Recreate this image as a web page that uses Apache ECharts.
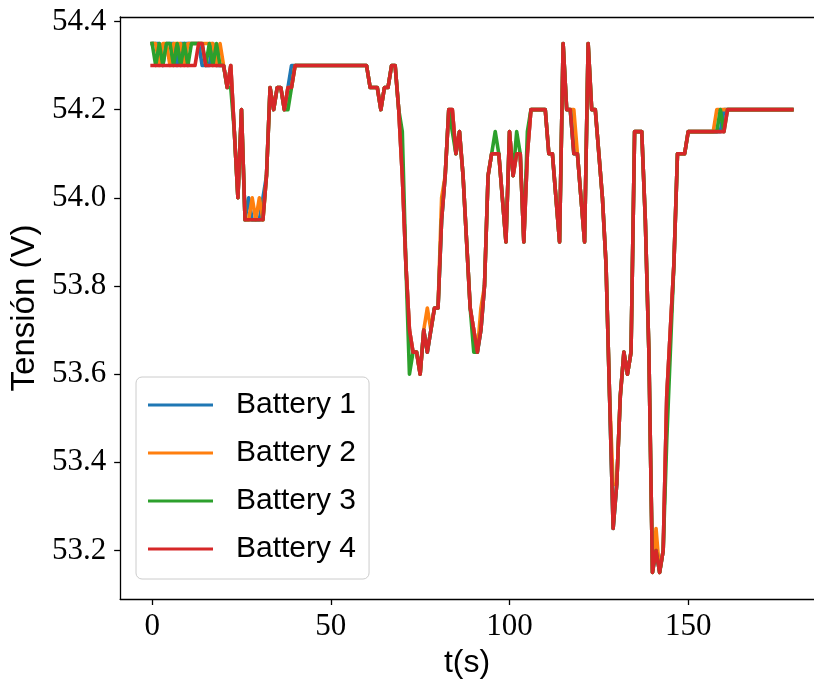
<!DOCTYPE html>
<html>
<head>
<meta charset="utf-8">
<script src="https://cdn.jsdelivr.net/npm/echarts@6/dist/echarts.min.js"></script>
<style>
    html, body { margin: 0; padding: 0; background: #ffffff; }
    #chart { width: 814px; height: 686px; }
</style>
</head>
<body>
<div id="chart"></div>
<script>
// Tick labels
const xTicks = [0, 50, 100, 150];
const yTicks = [53.2, 53.4, 53.6, 53.8, 54.0, 54.2, 54.4];

const seriesNames = ["Battery 1", "Battery 2", "Battery 3", "Battery 4"];
const seriesColors = ["#1f77b4", "#ff7f0e", "#2ca02c", "#d62728"];

// One sample per second, t = 0 .. 179 (index = t)
const battery1 = [
    54.35, 54.35, 54.35, 54.30, 54.35, 54.35, 54.35, 54.30, 54.35, 54.35,
    54.35, 54.35, 54.35, 54.35, 54.30, 54.30, 54.30, 54.35, 54.30, 54.30,
    54.30, 54.25, 54.30, 54.15, 54.00, 54.20, 53.95, 54.00, 53.95, 53.95,
    53.95, 54.00, 54.05, 54.25, 54.20, 54.25, 54.25, 54.20, 54.25, 54.30,
    54.30, 54.30, 54.30, 54.30, 54.30, 54.30, 54.30, 54.30, 54.30, 54.30,
    54.30, 54.30, 54.30, 54.30, 54.30, 54.30, 54.30, 54.30, 54.30, 54.30,
    54.30, 54.25, 54.25, 54.25, 54.20, 54.25, 54.25, 54.30, 54.30, 54.20,
    54.05, 53.85, 53.70, 53.65, 53.65, 53.60, 53.70, 53.65, 53.70, 53.75,
    53.75, 53.95, 54.05, 54.20, 54.20, 54.10, 54.15, 54.05, 53.90, 53.75,
    53.70, 53.65, 53.70, 53.80, 54.05, 54.10, 54.10, 54.10, 54.00, 53.90,
    54.15, 54.05, 54.10, 54.10, 53.90, 54.10, 54.20, 54.20, 54.20, 54.20,
    54.20, 54.10, 54.10, 54.00, 53.90, 54.35, 54.20, 54.20, 54.10, 54.10,
    54.00, 53.90, 54.35, 54.20, 54.20, 54.10, 54.00, 53.85, 53.55, 53.25,
    53.35, 53.55, 53.65, 53.60, 53.65, 54.15, 54.15, 54.15, 53.95, 53.65,
    53.15, 53.20, 53.15, 53.20, 53.55, 53.70, 53.85, 54.10, 54.10, 54.10,
    54.15, 54.15, 54.15, 54.15, 54.15, 54.15, 54.15, 54.15, 54.15, 54.15,
    54.20, 54.20, 54.20, 54.20, 54.20, 54.20, 54.20, 54.20, 54.20, 54.20,
    54.20, 54.20, 54.20, 54.20, 54.20, 54.20, 54.20, 54.20, 54.20, 54.20
];

const battery2 = [
    54.35, 54.35, 54.30, 54.35, 54.35, 54.30, 54.35, 54.35, 54.35, 54.30,
    54.35, 54.35, 54.35, 54.35, 54.35, 54.35, 54.35, 54.35, 54.30, 54.35,
    54.30, 54.25, 54.30, 54.15, 54.00, 54.20, 53.95, 53.95, 54.00, 53.95,
    54.00, 53.95, 54.05, 54.25, 54.20, 54.25, 54.25, 54.20, 54.25, 54.25,
    54.30, 54.30, 54.30, 54.30, 54.30, 54.30, 54.30, 54.30, 54.30, 54.30,
    54.30, 54.30, 54.30, 54.30, 54.30, 54.30, 54.30, 54.30, 54.30, 54.30,
    54.30, 54.25, 54.25, 54.25, 54.20, 54.25, 54.25, 54.30, 54.30, 54.20,
    54.05, 53.85, 53.70, 53.65, 53.65, 53.60, 53.70, 53.75, 53.70, 53.75,
    53.75, 54.00, 54.05, 54.20, 54.20, 54.10, 54.15, 54.05, 53.90, 53.75,
    53.70, 53.65, 53.75, 53.80, 54.05, 54.10, 54.10, 54.10, 54.00, 53.90,
    54.15, 54.05, 54.10, 54.10, 53.90, 54.10, 54.20, 54.20, 54.20, 54.20,
    54.20, 54.10, 54.10, 54.00, 53.90, 54.35, 54.20, 54.20, 54.20, 54.10,
    54.00, 53.90, 54.35, 54.20, 54.20, 54.10, 54.00, 53.85, 53.55, 53.35,
    53.35, 53.55, 53.65, 53.60, 53.65, 54.15, 54.15, 54.15, 53.95, 53.65,
    53.15, 53.25, 53.15, 53.20, 53.55, 53.70, 53.85, 54.10, 54.10, 54.10,
    54.15, 54.15, 54.15, 54.15, 54.15, 54.15, 54.15, 54.15, 54.20, 54.20,
    54.20, 54.20, 54.20, 54.20, 54.20, 54.20, 54.20, 54.20, 54.20, 54.20,
    54.20, 54.20, 54.20, 54.20, 54.20, 54.20, 54.20, 54.20, 54.20, 54.20
];

const battery3 = [
    54.35, 54.30, 54.35, 54.30, 54.35, 54.35, 54.30, 54.35, 54.30, 54.35,
    54.30, 54.35, 54.35, 54.35, 54.35, 54.30, 54.35, 54.30, 54.35, 54.30,
    54.30, 54.25, 54.25, 54.15, 54.00, 54.20, 53.95, 53.95, 53.95, 53.95,
    53.95, 53.95, 54.05, 54.25, 54.20, 54.25, 54.25, 54.20, 54.20, 54.25,
    54.30, 54.30, 54.30, 54.30, 54.30, 54.30, 54.30, 54.30, 54.30, 54.30,
    54.30, 54.30, 54.30, 54.30, 54.30, 54.30, 54.30, 54.30, 54.30, 54.30,
    54.30, 54.25, 54.25, 54.25, 54.20, 54.25, 54.25, 54.30, 54.30, 54.20,
    54.15, 53.85, 53.60, 53.65, 53.65, 53.60, 53.70, 53.65, 53.70, 53.75,
    53.75, 53.95, 54.05, 54.20, 54.15, 54.10, 54.15, 54.05, 53.90, 53.75,
    53.65, 53.65, 53.70, 53.80, 54.05, 54.10, 54.15, 54.10, 54.00, 53.90,
    54.15, 54.05, 54.15, 54.10, 53.90, 54.15, 54.20, 54.20, 54.20, 54.20,
    54.20, 54.10, 54.10, 54.00, 53.90, 54.35, 54.20, 54.20, 54.10, 54.10,
    54.00, 53.90, 54.35, 54.20, 54.20, 54.10, 54.00, 53.85, 53.55, 53.25,
    53.35, 53.55, 53.65, 53.60, 53.65, 54.15, 54.15, 54.15, 53.95, 53.65,
    53.15, 53.20, 53.15, 53.20, 53.45, 53.65, 53.85, 54.10, 54.10, 54.10,
    54.15, 54.15, 54.15, 54.15, 54.15, 54.15, 54.15, 54.15, 54.15, 54.20,
    54.15, 54.20, 54.20, 54.20, 54.20, 54.20, 54.20, 54.20, 54.20, 54.20,
    54.20, 54.20, 54.20, 54.20, 54.20, 54.20, 54.20, 54.20, 54.20, 54.20
];

const battery4 = [
    54.30, 54.30, 54.30, 54.30, 54.30, 54.30, 54.30, 54.30, 54.30, 54.30,
    54.30, 54.30, 54.30, 54.35, 54.35, 54.30, 54.30, 54.30, 54.30, 54.30,
    54.30, 54.25, 54.30, 54.15, 54.00, 54.20, 53.95, 53.95, 53.95, 53.95,
    53.95, 53.95, 54.05, 54.25, 54.20, 54.25, 54.25, 54.20, 54.25, 54.25,
    54.30, 54.30, 54.30, 54.30, 54.30, 54.30, 54.30, 54.30, 54.30, 54.30,
    54.30, 54.30, 54.30, 54.30, 54.30, 54.30, 54.30, 54.30, 54.30, 54.30,
    54.30, 54.25, 54.25, 54.25, 54.20, 54.25, 54.25, 54.30, 54.30, 54.20,
    54.05, 53.85, 53.70, 53.65, 53.65, 53.60, 53.70, 53.65, 53.70, 53.75,
    53.75, 53.95, 54.05, 54.20, 54.20, 54.10, 54.15, 54.05, 53.90, 53.75,
    53.70, 53.65, 53.70, 53.80, 54.05, 54.10, 54.10, 54.10, 54.00, 53.90,
    54.15, 54.05, 54.10, 54.10, 53.90, 54.10, 54.20, 54.20, 54.20, 54.20,
    54.20, 54.10, 54.10, 54.00, 53.90, 54.35, 54.20, 54.20, 54.10, 54.10,
    54.00, 53.90, 54.35, 54.20, 54.20, 54.10, 54.00, 53.85, 53.55, 53.25,
    53.35, 53.55, 53.65, 53.60, 53.65, 54.15, 54.15, 54.15, 53.95, 53.65,
    53.15, 53.20, 53.15, 53.20, 53.55, 53.70, 53.85, 54.10, 54.10, 54.10,
    54.15, 54.15, 54.15, 54.15, 54.15, 54.15, 54.15, 54.15, 54.15, 54.15,
    54.15, 54.20, 54.20, 54.20, 54.20, 54.20, 54.20, 54.20, 54.20, 54.20,
    54.20, 54.20, 54.20, 54.20, 54.20, 54.20, 54.20, 54.20, 54.20, 54.20
];

const batteries = [battery1, battery2, battery3, battery4];

// Axis limits (the right side of the frame is cut off by the picture edge)
const xMin = -8.95;
const xMax = 185.2;
const yMin = 53.09;
const yMax = 54.41;

const serifFont = "'Liberation Serif', 'DejaVu Serif', serif";
const sansFont = "'Liberation Sans', 'DejaVu Sans', sans-serif";
const spine = { color: "#000000", width: 1.3 };

const chart = echarts.init(document.getElementById("chart"), null, { renderer: "canvas" });

const option = {
    animation: false,
    backgroundColor: "#ffffff",
    grid: { left: 120, right: 0, top: 17, bottom: 87 },
    xAxis: [
        {
            type: "value",
            min: xMin,
            max: xMax,
            name: "t(s)",
            nameLocation: "middle",
            nameGap: 46,
            nameTextStyle: { fontFamily: sansFont, fontSize: 32, color: "#000000" },
            axisLine: { show: true, onZero: false, lineStyle: spine },
            axisTick: { show: true, length: 6, customValues: xTicks, lineStyle: spine },
            axisLabel: {
                customValues: xTicks,
                margin: 12,
                fontFamily: serifFont,
                fontSize: 31,
                color: "#000000"
            },
            splitLine: { show: false }
        },
        {
            // top spine only
            type: "value",
            position: "top",
            min: xMin,
            max: xMax,
            axisLine: { show: true, onZero: false, lineStyle: spine },
            axisTick: { show: false },
            axisLabel: { show: false },
            splitLine: { show: false }
        }
    ],
    yAxis: {
        type: "value",
        min: yMin,
        max: yMax,
        name: "Tensión (V)",
        nameLocation: "middle",
        nameGap: 75,
        nameRotate: 90,
        nameTextStyle: { fontFamily: sansFont, fontSize: 33, color: "#000000" },
        axisLine: { show: true, onZero: false, lineStyle: spine },
        axisTick: { show: true, length: 6, customValues: yTicks, lineStyle: spine },
        axisLabel: {
            customValues: yTicks,
            margin: 14,
            fontFamily: serifFont,
            fontSize: 31,
            color: "#000000",
            formatter: (v) => v.toFixed(1)
        },
        splitLine: { show: false }
    },
    legend: {
        orient: "vertical",
        left: 136,
        top: 377,
        padding: [13, 13, 15, 12],
        itemWidth: 65,
        itemHeight: 3,
        itemGap: 18,
        icon: "rect",
        backgroundColor: "rgba(255,255,255,0.8)",
        borderColor: "#cccccc",
        borderWidth: 1,
        borderRadius: 6,
        textStyle: {
            fontFamily: sansFont,
            fontSize: 30,
            color: "#000000",
            padding: [0, 0, 0, 18]
        },
        data: seriesNames
    },
    series: batteries.map((values, i) => ({
        name: seriesNames[i],
        type: "line",
        xAxisIndex: 0,
        data: values.map((v, t) => [t, v]),
        color: seriesColors[i],
        showSymbol: false,
        symbol: "none",
        lineStyle: { width: 3.6, color: seriesColors[i], join: "round", cap: "square" }
    }))
};

chart.setOption(option);
</script>
</body>
</html>
